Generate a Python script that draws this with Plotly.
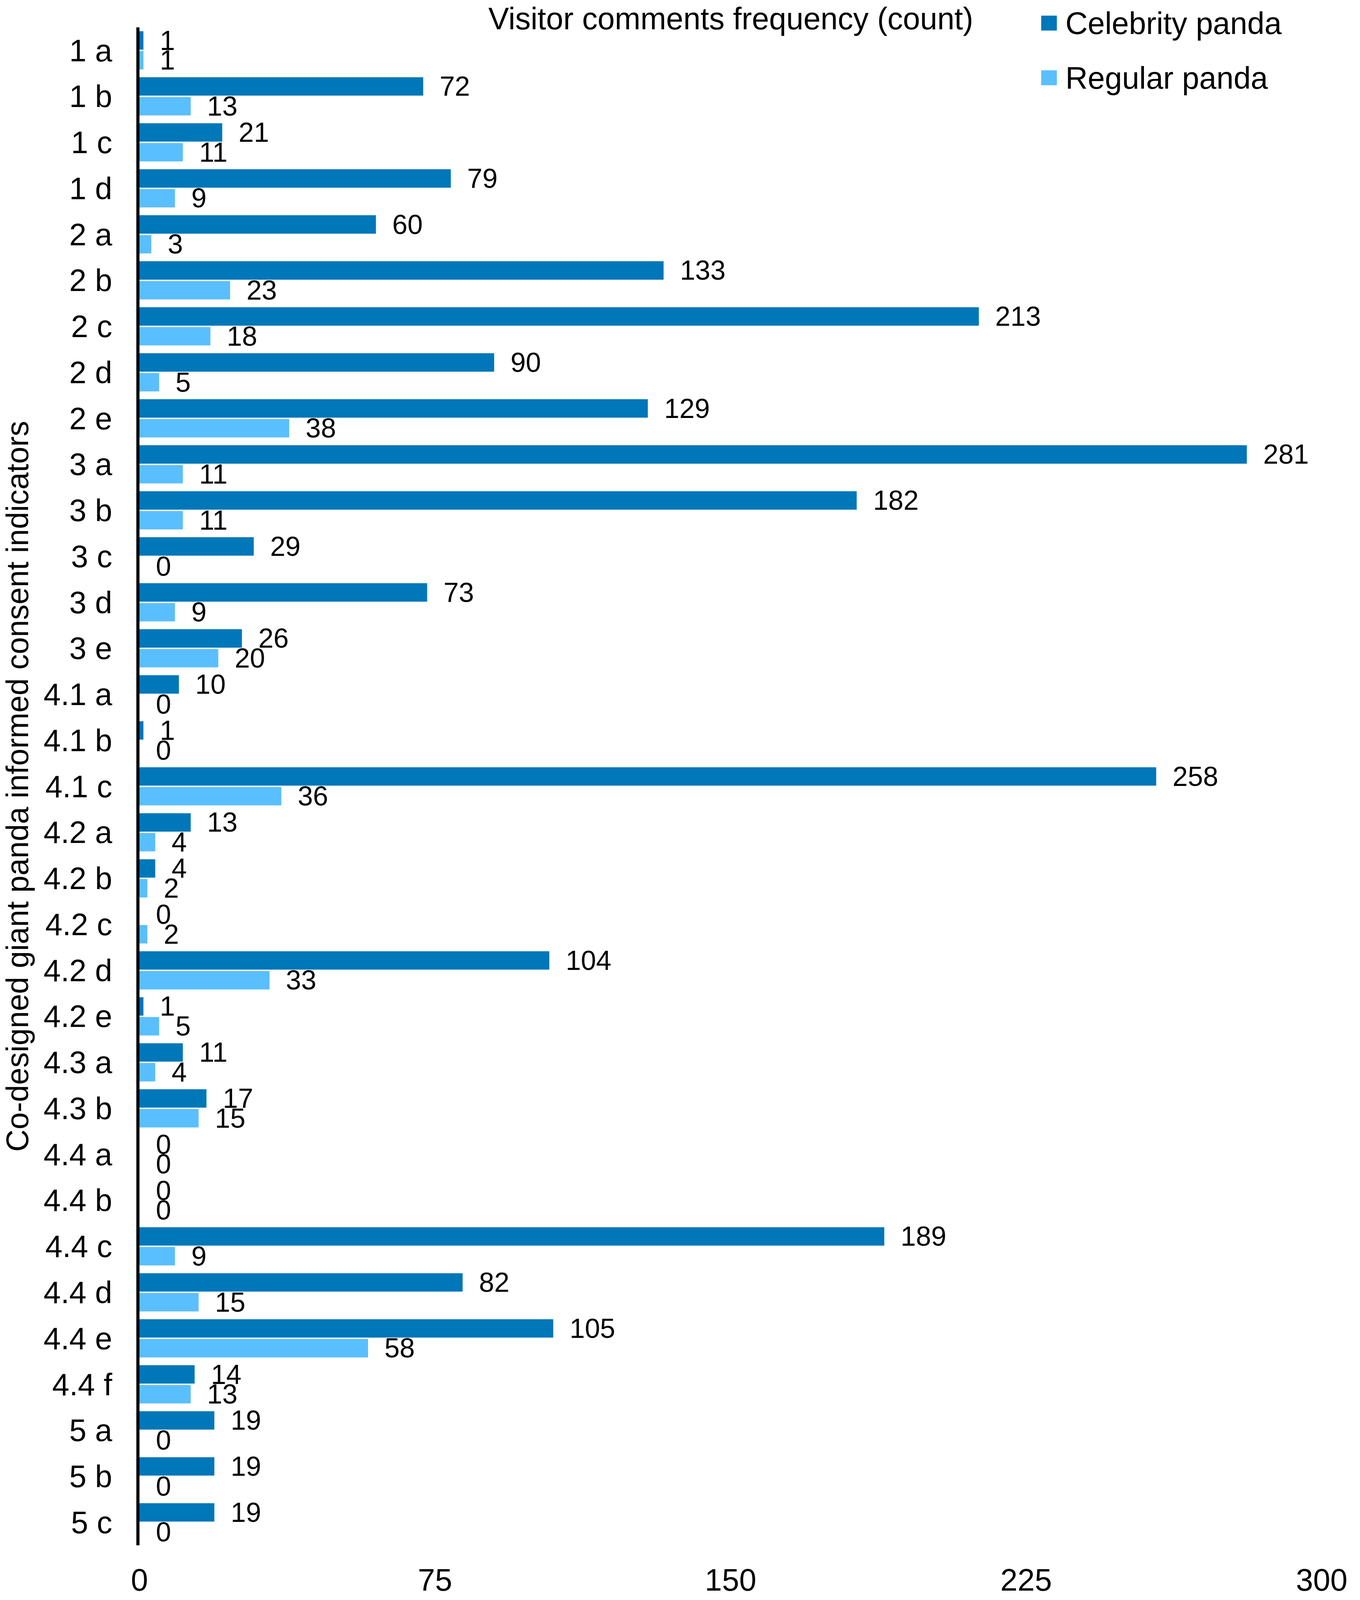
import plotly.graph_objects as go

categories = ["1 a", "1 b", "1 c", "1 d", "2 a", "2 b", "2 c", "2 d", "2 e",
              "3 a", "3 b", "3 c", "3 d", "3 e", "4.1 a", "4.1 b", "4.1 c",
              "4.2 a", "4.2 b", "4.2 c", "4.2 d", "4.2 e", "4.3 a", "4.3 b",
              "4.4 a", "4.4 b", "4.4 c", "4.4 d", "4.4 e", "4.4 f",
              "5 a", "5 b", "5 c"]
celebrity = [1, 72, 21, 79, 60, 133, 213, 90, 129, 281, 182, 29, 73, 26, 10, 1, 258,
             13, 4, 0, 104, 1, 11, 17, 0, 0, 189, 82, 105, 14, 19, 19, 19]
regular = [1, 13, 11, 9, 3, 23, 18, 5, 38, 11, 11, 0, 9, 20, 0, 0, 36,
           4, 2, 2, 33, 5, 4, 15, 0, 0, 9, 15, 58, 13, 0, 0, 0]
series_names = ["Celebrity panda", "Regular panda"]
x_ticks = [0, 75, 150, 225, 300]

colors = ["#0077B9", "#5ABFFE"]
FONT = "Liberation Sans, Arial, sans-serif"

fig = go.Figure()
for name, vals, col in zip(series_names, [celebrity, regular], colors):
    fig.add_trace(go.Bar(
        y=categories, x=vals, name=name, orientation="h",
        marker=dict(color=col, line=dict(width=0)),
        text=vals, texttemplate="\u00a0\u00a0%{x}", textposition="outside",
        textfont=dict(family=FONT, size=70, color="black"),
        constraintext="none", cliponaxis=False, showlegend=False,
    ))

# viewport of the browser is 3481 x 4096; reference proportions scaled to it
W, H = 3481, 4096
S = H / 4298.0
L, R = 357, 98
T = round(73 * S)
B = H - round(4151 * S)

fig.update_layout(
    width=W, height=H,
    margin=dict(l=L, r=R, t=T, b=B, autoexpand=False),
    paper_bgcolor="white", plot_bgcolor="white",
    barmode="group", bargap=0.14, bargroupgap=0.07,
    font=dict(family=FONT, size=79, color="black"),
    xaxis=dict(range=[0, 300], tickvals=x_ticks, showgrid=False, zeroline=False,
               showline=False, ticks="", ticklabelstandoff=36,
               tickfont=dict(size=79), automargin=False, fixedrange=True),
    yaxis=dict(categoryorder="array", categoryarray=categories, autorange="reversed",
               showgrid=False, zeroline=False, showline=True, linecolor="black",
               linewidth=8, ticks="", ticklabelstandoff=46, tickfont=dict(size=79),
               automargin=False, fixedrange=True,
               title=dict(text="Co-designed giant panda informed consent indicators",
                          font=dict(size=79), standoff=28)),
)

plot_w = W - L - R
plot_h = H - T - B

def px_x(x):
    return (x - L) / plot_w

def px_y(y_ref):
    y = y_ref * S
    return (H - B - y) / plot_h

fig.add_annotation(text="Visitor comments frequency (count)", xref="paper", yref="paper",
                   x=0.5, y=px_y(50), xanchor="center", yanchor="middle",
                   showarrow=False, font=dict(size=79))

leg_rows = [(62, series_names[0], colors[0]), (209, series_names[1], colors[1])]
for yc, name, col in leg_rows:
    fig.add_shape(type="rect", xref="paper", yref="paper",
                  x0=px_x(2665), x1=px_x(2705), y0=px_y(yc - 20), y1=px_y(yc + 20),
                  fillcolor=col, line=dict(width=0))
    fig.add_annotation(text=name, xref="paper", yref="paper",
                       x=px_x(2725), y=px_y(yc), xanchor="left", yanchor="middle",
                       showarrow=False, font=dict(size=79))

post = "document.body.style.margin='0';document.body.style.overflow='hidden';"
fig.write_html("out.html", config={"displayModeBar": False}, post_script=post)
